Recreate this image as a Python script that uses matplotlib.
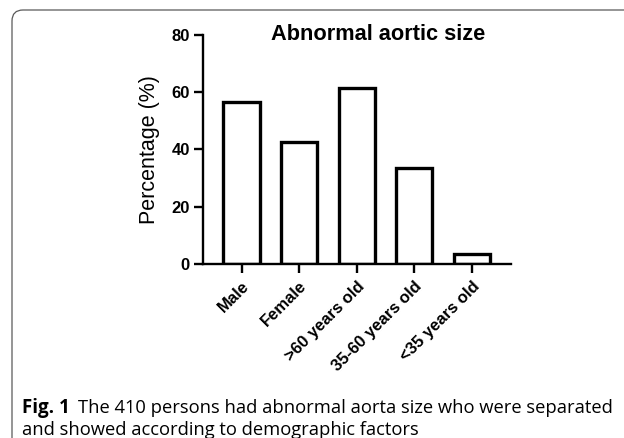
import matplotlib
matplotlib.use("Agg")
import matplotlib.pyplot as plt
from matplotlib.patches import FancyBboxPatch

categories = ["Male", "Female", ">60 years old", "35-60 years old", "<35 years old"]
percent = [56.6, 42.5, 61.5, 33.6, 3.6]
yticks = [0, 20, 40, 60, 80]

plt.rcParams['font.family'] = ['Liberation Sans', 'DejaVu Sans']

fig = plt.figure(figsize=(6.24, 4.38), dpi=100)

# rounded frame around figure + caption (in inches)
frame = FancyBboxPatch((0.12, -0.5), 7.0, 4.28 + 0.5,
                       boxstyle="round,pad=0,rounding_size=0.11",
                       transform=fig.dpi_scale_trans, fill=False,
                       edgecolor="#595959", linewidth=0.9)
fig.patches.append(frame)

ax = fig.add_axes([203 / 624, 1 - 264 / 438, (511 - 203) / 624, (264 - 35) / 438])
x = list(range(len(categories)))
ax.bar(x, percent, width=0.63, color="white", edgecolor="black", linewidth=2.4)

ax.set_xlim(-0.67, 4.68)
ax.set_ylim(0, 80)
ax.set_yticks(yticks)
ax.set_xticks(x)
ax.set_xticklabels(categories, rotation=45, ha="right", rotation_mode="anchor",
                   fontsize=12, fontweight="bold")
for lab in ax.get_yticklabels():
    lab.set_fontweight("bold")
    lab.set_fontsize(12)
ax.tick_params(axis="both", width=1.7, length=6.5, direction="out")
ax.tick_params(axis="y", pad=3)
ax.tick_params(axis="x", pad=4)
for s in ["top", "right"]:
    ax.spines[s].set_visible(False)
for s in ["left", "bottom"]:
    ax.spines[s].set_linewidth(1.7)
ax.set_ylabel("Percentage (%)", fontsize=15.5, labelpad=8)
ax.text(0.57, 1.0, "Abnormal aortic size", transform=ax.transAxes,
        fontsize=15.7, fontweight="bold", ha="center", va="center")

fig.text(22 / 624, 1 - 408 / 438, "Fig. 1", fontsize=13.5, fontweight="bold",
         va="center", family=["Open Sans", "DejaVu Sans"])
fig.text(78 / 624, 1 - 408 / 438,
         "The 410 persons had abnormal aorta size who were separated",
         fontsize=13.2, va="center", family=["Open Sans", "DejaVu Sans"])
fig.text(22 / 624, 1 - 430 / 438, "and showed according to demographic factors",
         fontsize=13.2, va="center", family=["Open Sans", "DejaVu Sans"])

fig.savefig("out.png", dpi=100)
